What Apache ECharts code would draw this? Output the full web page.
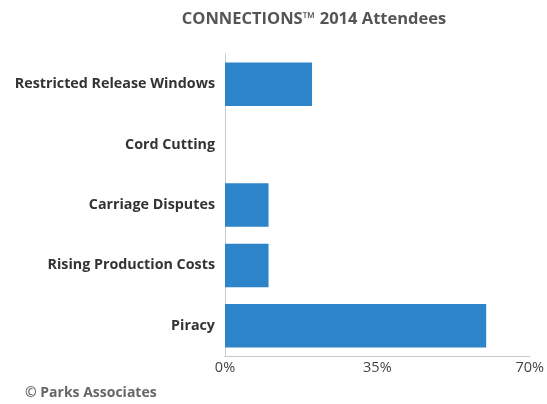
<!DOCTYPE html>
<html>
<head>
<meta charset="utf-8">
<script src="https://cdn.jsdelivr.net/npm/echarts@6/dist/echarts.min.js"></script>
<style>
  html, body { margin: 0; padding: 0; background: #fff; }
  #chart { width: 547px; height: 404px; }
</style>
</head>
<body>
<div id="chart"></div>
<script>
// Survey issues, listed bottom to top as drawn on the category axis
const categories = ['Piracy', 'Rising Production Costs', 'Carriage Disputes', 'Cord Cutting', 'Restricted Release Windows'];
const shares = [60, 10, 10, 0, 20];
const xTicks = [0, 35, 70];

const chart = echarts.init(document.getElementById('chart'), null, { renderer: 'canvas' });

const font = '"Open Sans", "Noto Sans", sans-serif';

chart.setOption({
  animation: false,
  backgroundColor: '#ffffff',
  title: {
    text: 'CONNECTIONS\u2122 2014 Attendees',
    left: 309,
    textAlign: 'center',
    top: 6,
    textStyle: { fontFamily: font, fontSize: 16.5, fontWeight: 'bold', color: '#555555' }
  },
  graphic: [{
    type: 'text',
    left: 25,
    top: 386,
    style: { text: '\u00a9 Parks Associates', fontFamily: font, fontSize: 14, fontWeight: 'bold', fill: '#666666' }
  }],
  grid: { left: 225, right: 17, top: 54, bottom: 48, containLabel: false },
  xAxis: {
    type: 'value',
    min: xTicks[0],
    max: xTicks[xTicks.length - 1],
    interval: xTicks[1] - xTicks[0],
    axisLine: { show: true, lineStyle: { color: '#bbbbbb', type: 'dotted', width: 1 } },
    axisTick: { show: false },
    splitLine: { show: false },
    axisLabel: {
      formatter: v => v + '%',
      fontFamily: font, fontSize: 14.5, color: '#444444', margin: 4
    }
  },
  yAxis: {
    type: 'category',
    data: categories,
    axisLine: { show: true, lineStyle: { color: '#cccccc', width: 1 } },
    axisTick: { show: false },
    axisLabel: {
      fontFamily: font, fontSize: 14.3, fontWeight: 'bold', color: '#333333', margin: 10
    }
  },
  series: [{
    type: 'bar',
    data: shares,
    barCategoryGap: '28%',
    itemStyle: { color: '#2e84c9' }
  }]
});
</script>
</body>
</html>
